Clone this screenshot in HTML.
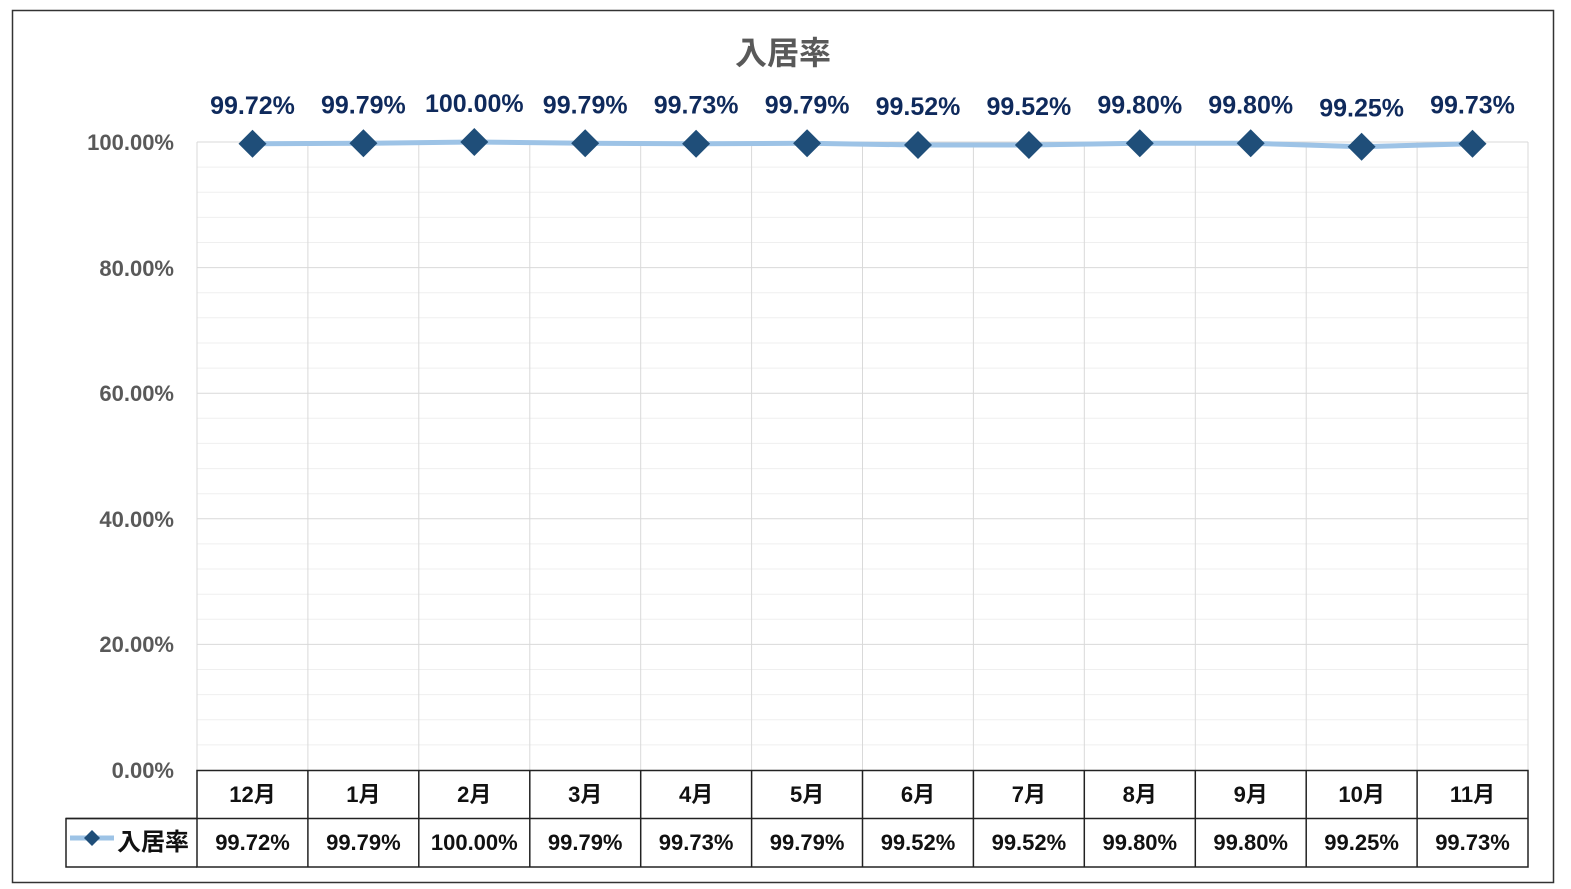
<!DOCTYPE html>
<html><head><meta charset="utf-8"><style>
html,body{margin:0;padding:0;background:#fff;}
svg{display:block;}
text{font-family:"Liberation Sans","Noto Sans CJK JP",sans-serif;font-weight:bold;}
</style></head><body>
<svg width="1571" height="889" viewBox="0 0 1571 889">
<rect x="12.5" y="10.5" width="1541" height="872" fill="#fff" stroke="#333" stroke-width="1.5"/>
<text x="783" y="64" font-size="32" fill="#595959" text-anchor="middle">入居率</text>
<g stroke="#efefef" stroke-width="1">
<line x1="197" x2="1528" y1="167.1" y2="167.1"/><line x1="197" x2="1528" y1="192.2" y2="192.2"/><line x1="197" x2="1528" y1="217.4" y2="217.4"/><line x1="197" x2="1528" y1="242.5" y2="242.5"/>
<line x1="197" x2="1528" y1="292.7" y2="292.7"/><line x1="197" x2="1528" y1="317.8" y2="317.8"/><line x1="197" x2="1528" y1="343" y2="343"/><line x1="197" x2="1528" y1="368.1" y2="368.1"/>
<line x1="197" x2="1528" y1="418.3" y2="418.3"/><line x1="197" x2="1528" y1="443.4" y2="443.4"/><line x1="197" x2="1528" y1="468.6" y2="468.6"/><line x1="197" x2="1528" y1="493.7" y2="493.7"/>
<line x1="197" x2="1528" y1="543.9" y2="543.9"/><line x1="197" x2="1528" y1="569" y2="569"/><line x1="197" x2="1528" y1="594.2" y2="594.2"/><line x1="197" x2="1528" y1="619.3" y2="619.3"/>
<line x1="197" x2="1528" y1="669.5" y2="669.5"/><line x1="197" x2="1528" y1="694.6" y2="694.6"/><line x1="197" x2="1528" y1="719.8" y2="719.8"/><line x1="197" x2="1528" y1="744.9" y2="744.9"/>
</g>
<g stroke="#d9d9d9" stroke-width="1">
<line x1="197" x2="1528" y1="142" y2="142"/><line x1="197" x2="1528" y1="267.6" y2="267.6"/><line x1="197" x2="1528" y1="393.2" y2="393.2"/><line x1="197" x2="1528" y1="518.8" y2="518.8"/><line x1="197" x2="1528" y1="644.4" y2="644.4"/>
<line x1="197" x2="197" y1="142" y2="770"/><line x1="307.9" x2="307.9" y1="142" y2="770"/><line x1="418.8" x2="418.8" y1="142" y2="770"/><line x1="529.8" x2="529.8" y1="142" y2="770"/><line x1="640.7" x2="640.7" y1="142" y2="770"/><line x1="751.6" x2="751.6" y1="142" y2="770"/><line x1="862.5" x2="862.5" y1="142" y2="770"/><line x1="973.4" x2="973.4" y1="142" y2="770"/><line x1="1084.3" x2="1084.3" y1="142" y2="770"/><line x1="1195.3" x2="1195.3" y1="142" y2="770"/><line x1="1306.2" x2="1306.2" y1="142" y2="770"/><line x1="1417.1" x2="1417.1" y1="142" y2="770"/><line x1="1528" x2="1528" y1="142" y2="770"/>
</g>
<g font-size="22" fill="#595959" text-anchor="end">
<text x="174" y="150">100.00%</text><text x="174" y="276">80.00%</text><text x="174" y="401">60.00%</text><text x="174" y="527">40.00%</text><text x="174" y="652">20.00%</text><text x="174" y="778">0.00%</text>
</g>
<polyline fill="none" stroke="#9dc3e6" stroke-width="5" points="252.5,143.8 363.4,143.3 474.3,142 585.2,143.3 696.1,143.7 807.1,143.3 918,145 1028.9,145 1139.8,143.3 1250.7,143.3 1361.6,146.7 1472.5,143.7"/>
<g fill="#1f4e79">
<path d="M252.5 129.8l14 14-14 14-14-14z"/><path d="M363.4 129.3l14 14-14 14-14-14z"/><path d="M474.3 128l14 14-14 14-14-14z"/><path d="M585.2 129.3l14 14-14 14-14-14z"/><path d="M696.1 129.7l14 14-14 14-14-14z"/><path d="M807.1 129.3l14 14-14 14-14-14z"/><path d="M918 131l14 14-14 14-14-14z"/><path d="M1028.9 131l14 14-14 14-14-14z"/><path d="M1139.8 129.3l14 14-14 14-14-14z"/><path d="M1250.7 129.3l14 14-14 14-14-14z"/><path d="M1361.6 132.7l14 14-14 14-14-14z"/><path d="M1472.5 129.7l14 14-14 14-14-14z"/>
</g>
<g font-size="25" fill="#0f2a5c" text-anchor="middle">
<text x="252.5" y="113.8">99.72%</text><text x="363.4" y="113.3">99.79%</text><text x="474.3" y="112">100.00%</text><text x="585.2" y="113.3">99.79%</text><text x="696.1" y="113.7">99.73%</text><text x="807.1" y="113.3">99.79%</text><text x="918" y="115">99.52%</text><text x="1028.9" y="115">99.52%</text><text x="1139.8" y="113.3">99.80%</text><text x="1250.7" y="113.3">99.80%</text><text x="1361.6" y="116.7">99.25%</text><text x="1472.5" y="113.7">99.73%</text>
</g>
<g stroke="#222" stroke-width="1.5" fill="none">
<rect x="197" y="770.5" width="1331" height="96.5"/>
<line x1="66" x2="1528" y1="818.5" y2="818.5"/>
<polyline points="197,818.5 66,818.5 66,867 197,867"/>
<line x1="307.9" x2="307.9" y1="770" y2="867"/><line x1="418.8" x2="418.8" y1="770" y2="867"/><line x1="529.8" x2="529.8" y1="770" y2="867"/><line x1="640.7" x2="640.7" y1="770" y2="867"/><line x1="751.6" x2="751.6" y1="770" y2="867"/><line x1="862.5" x2="862.5" y1="770" y2="867"/><line x1="973.4" x2="973.4" y1="770" y2="867"/><line x1="1084.3" x2="1084.3" y1="770" y2="867"/><line x1="1195.3" x2="1195.3" y1="770" y2="867"/><line x1="1306.2" x2="1306.2" y1="770" y2="867"/><line x1="1417.1" x2="1417.1" y1="770" y2="867"/>
</g>
<g font-size="22" fill="#111" text-anchor="middle">
<text x="252.5" y="802">12月</text><text x="363.4" y="802">1月</text><text x="474.3" y="802">2月</text><text x="585.2" y="802">3月</text><text x="696.1" y="802">4月</text><text x="807.1" y="802">5月</text><text x="918" y="802">6月</text><text x="1028.9" y="802">7月</text><text x="1139.8" y="802">8月</text><text x="1250.7" y="802">9月</text><text x="1361.6" y="802">10月</text><text x="1472.5" y="802">11月</text>
<text x="252.5" y="850">99.72%</text><text x="363.4" y="850">99.79%</text><text x="474.3" y="850">100.00%</text><text x="585.2" y="850">99.79%</text><text x="696.1" y="850">99.73%</text><text x="807.1" y="850">99.79%</text><text x="918" y="850">99.52%</text><text x="1028.9" y="850">99.52%</text><text x="1139.8" y="850">99.80%</text><text x="1250.7" y="850">99.80%</text><text x="1361.6" y="850">99.25%</text><text x="1472.5" y="850">99.73%</text>
</g>
<line x1="70" x2="114" y1="838" y2="838" stroke="#9dc3e6" stroke-width="5"/>
<path d="M92 830l8 8-8 8-8-8z" fill="#1f4e79"/>
<text x="117" y="850" font-size="24" fill="#111">入居率</text>
</svg>
</body></html>
